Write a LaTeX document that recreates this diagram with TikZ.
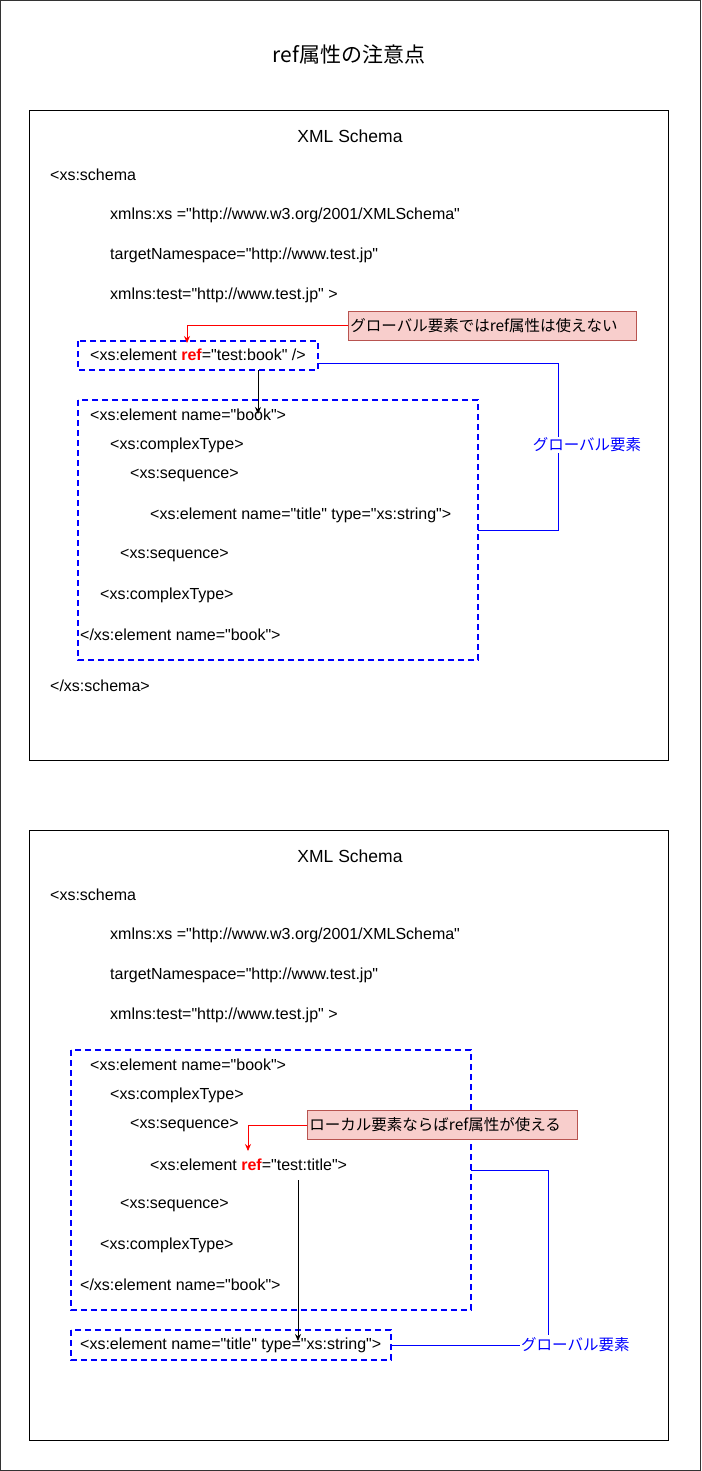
\documentclass[tikz,border=0pt]{standalone}
\usepackage{fontspec}
\setmainfont{Liberation Sans}[Ligatures=TeXOff]
\newfontfamily\jp{Noto Sans CJK JP}[Ligatures=TeXOff]
\usetikzlibrary{arrows.meta}
\definecolor{calloutfill}{HTML}{F8CECC}
\definecolor{calloutdraw}{HTML}{B85450}
\definecolor{refred}{HTML}{FF0000}
\definecolor{gblue}{HTML}{0000FF}
\tikzset{
  code/.style={anchor=west,inner sep=0pt,font=\fontsize{16}{18}\selectfont},
  frame/.style={draw=black,line width=0.8pt},
  dashbox/.style={draw=gblue,line width=2pt,dash pattern=on 6pt off 4pt},
  callout/.style={draw=calloutdraw,fill=calloutfill,line width=0.8pt,anchor=west,inner xsep=2pt,inner ysep=0pt,minimum height=29pt,align=left,font=\jp\fontsize{15.5}{18}\selectfont},
  redarrow/.style={draw=refred,line width=0.8pt,-{Stealth[length=7pt,width=6pt]}},
  blkarrow/.style={draw=black,line width=0.8pt,-{Stealth[length=7pt,width=6pt]}},
  blueline/.style={draw=gblue,line width=0.8pt},
  bluelabel/.style={text=gblue,fill=white,inner sep=1pt,font=\jp\fontsize{15.5}{18}\selectfont},
  heading/.style={font=\fontsize{17.5}{20}\selectfont,inner sep=0pt}
}
\newcommand{\refword}{\textcolor{refred}{\textbf{ref}}}
\begin{document}
\begin{tikzpicture}[x=1pt,y=-1pt]
\useasboundingbox (0,0) rectangle (701,1471);
\draw[draw=black!80,line width=0.8pt] (0.5,0.5) rectangle (700.5,1470.5);
\node[font=\jp\fontsize{21}{24}\selectfont,inner sep=0pt] (title) at (349,55) {ref属性の注意点};

% ---------- Box 1 ----------
\draw[frame] (29,110) rectangle (668,760);
\node[heading] (h1) at (350,136) {XML Schema};
\node[code] (s1) at (50,175) {<xs:schema};
\node[code] (s1a) at (110,215) {xmlns:xs ="http://www.w3.org/2001/XMLSchema"};
\node[code] (s1b) at (110,255) {targetNamespace="http://www.test.jp"};
\node[code] (s1c) at (110,295) {xmlns:test="http://www.test.jp" >};

\draw[dashbox] (78,341) rectangle (318,370);
\coordinate (rb1) at (318,363);
\node[code] (r1) at (90,355) {<xs:element \refword="test:book" />};
\node[callout,text width=284pt] (c1) at (348,325.5) {グローバル要素ではref属性は使えない};
\coordinate (c1t) at (187,343);
\draw[redarrow] (c1.west) -| (c1t);

\draw[dashbox] (78,400) rectangle (478,660);
\coordinate (b1r) at (478,530);
\node[code] (e1) at (90,415) {<xs:element name="book">};
\node[code] (e2) at (110,445) {<xs:complexType>};
\node[code] (e3) at (130,475) {<xs:sequence>};
\node[code] (e4) at (150,515) {<xs:element name="title" type="xs:string">};
\node[code] (e5) at (120,555) {<xs:sequence>};
\node[code] (e6) at (100,595) {<xs:complexType>};
\node[code] (e7) at (80,635) {</xs:element name="book">};
\node[code] (s1e) at (50,686) {</xs:schema>};

\coordinate (a1s) at (258,370);
\coordinate (a1e) at (258,414);
\draw[blkarrow] (a1s) -- (a1e);

\draw[blueline] (rb1) -- (558,363) -- (558,530) -- (b1r);
\node[bluelabel] (g1) at (587,445) {グローバル要素};

% ---------- Box 2 ----------
\draw[frame] (29,830) rectangle (668,1440);
\node[heading] (h2) at (350,856) {XML Schema};
\node[code] (s2) at (50,895) {<xs:schema};
\node[code] (s2a) at (110,935) {xmlns:xs ="http://www.w3.org/2001/XMLSchema"};
\node[code] (s2b) at (110,975) {targetNamespace="http://www.test.jp"};
\node[code] (s2c) at (110,1015) {xmlns:test="http://www.test.jp" >};

\draw[dashbox] (71,1050) rectangle (471,1310);
\coordinate (b2r) at (471,1170);
\node[code] (f1) at (90,1065) {<xs:element name="book">};
\node[code] (f2) at (110,1095) {<xs:complexType>};
\node[code] (f3) at (130,1125) {<xs:sequence>};
\node[code] (f4) at (150,1165) {<xs:element \refword="test:title">};
\node[code] (f5) at (120,1205) {<xs:sequence>};
\node[code] (f6) at (100,1245) {<xs:complexType>};
\node[code] (f7) at (80,1285) {</xs:element name="book">};

\node[callout,text width=266pt] (c2) at (307,1125) {ローカル要素ならばref属性が使える};
\coordinate (c2t) at (248,1151);
\draw[redarrow] (c2.west) -| (c2t);

\draw[dashbox] (71,1330) rectangle (391,1360);
\node[code] (t1) at (80,1345) {<xs:element name="title" type="xs:string">};

\coordinate (a2s) at (298,1180);
\coordinate (a2e) at (298,1341);
\draw[blkarrow] (a2s) -- (a2e);

\node[bluelabel,anchor=west] (g2) at (520,1345) {グローバル要素};
\draw[blueline] (391,1345) -- (g2.west);
\draw[blueline] (b2r) -- (548,1170) -- (548,1335);
\end{tikzpicture}
\end{document}
